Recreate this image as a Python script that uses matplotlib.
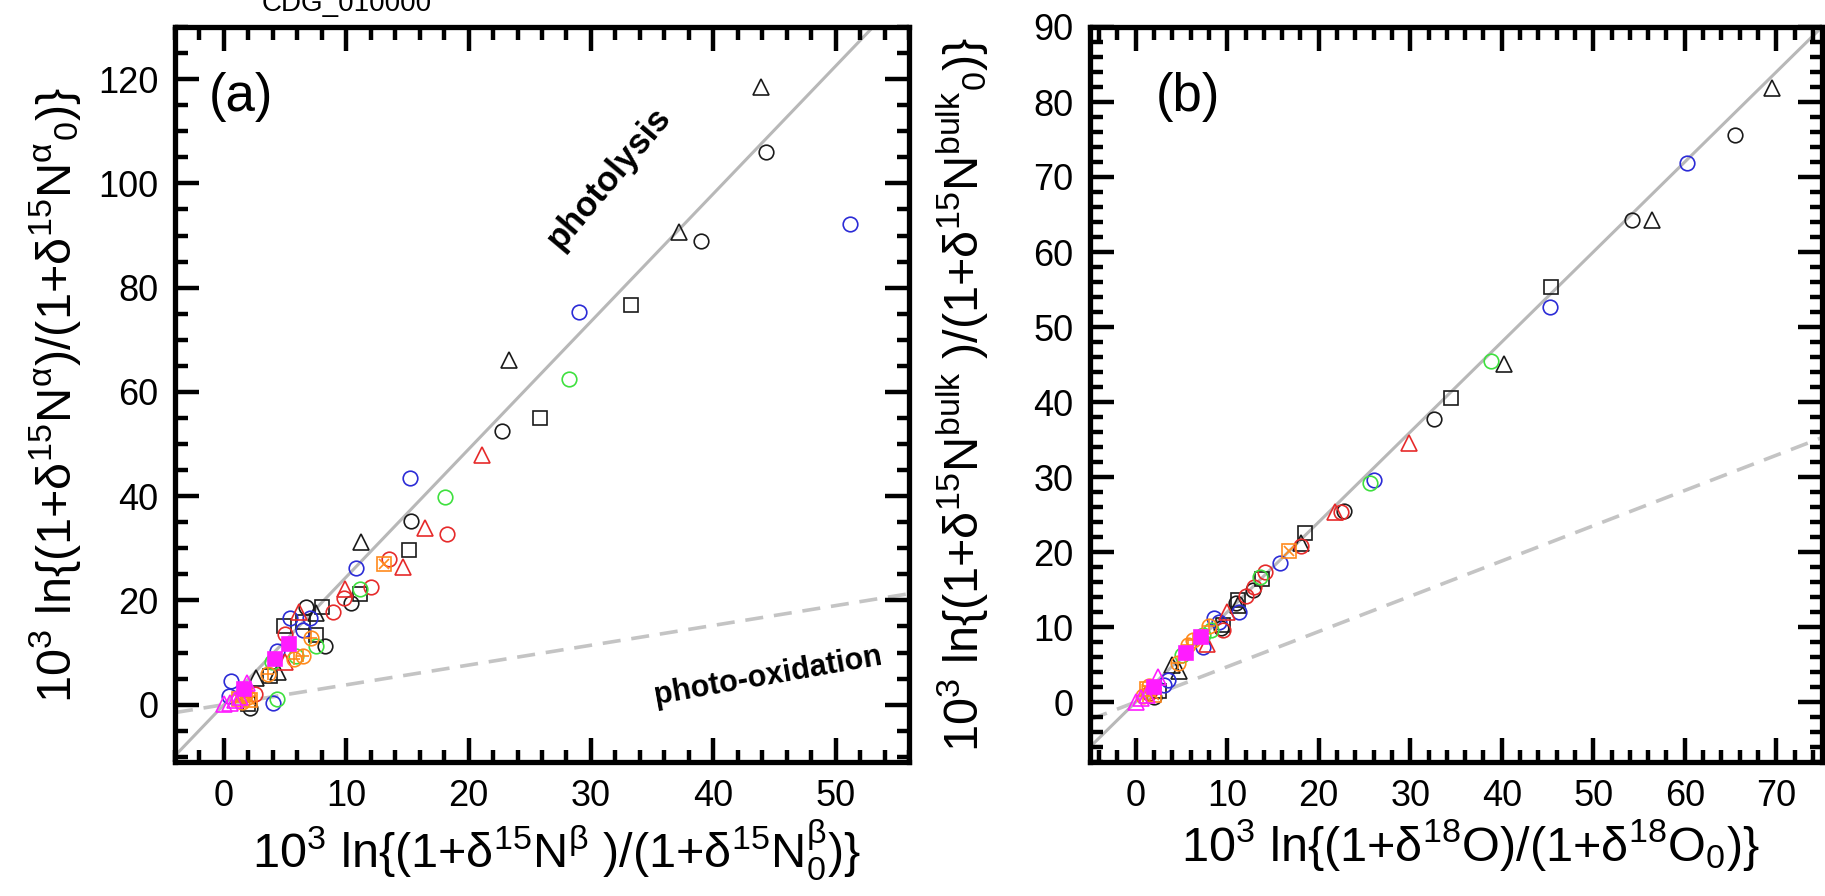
import matplotlib
matplotlib.use('Agg')
import matplotlib.pyplot as plt
from matplotlib import font_manager
from matplotlib.ticker import MultipleLocator

names = {f.name for f in font_manager.fontManager.ttflist}
fam = 'Liberation Sans' if 'Liberation Sans' in names else 'DejaVu Sans'
plt.rcParams['font.family'] = [fam, 'DejaVu Sans']
plt.rcParams['mathtext.default'] = 'regular'

# ---- panel (a): d15N-beta vs d15N-alpha ----
a_blk_o_x = [44.3, 39.0, 22.7, 15.3, 10.4, 6.7, 8.3, 2.1]
a_blk_o_y = [106.0, 88.9, 52.5, 35.3, 19.5, 18.8, 11.3, -0.6]
a_blk_t_x = [43.9, 37.2, 23.3, 11.2, 7.5, 4.4, 2.6]
a_blk_t_y = [118.5, 90.6, 66.2, 31.2, 17.5, 6.3, 5.2]
a_blk_s_x = [33.3, 25.8, 15.1, 11.1, 8.0, 6.5, 4.9, 7.5, 2.0, 3.8]
a_blk_s_y = [76.7, 55.0, 29.6, 21.3, 18.8, 15.8, 15.0, 13.3, 0.2, 5.5]
a_blu_o_x = [51.2, 29.0, 15.2, 10.8, 5.4, 7.0, 6.5, 4.3, 0.6, 0.4, 4.0]
a_blu_o_y = [92.3, 75.4, 43.5, 26.3, 16.7, 16.7, 14.4, 10.2, 4.6, 1.7, 0.4]
a_red_o_x = [18.2, 13.5, 12.0, 9.8, 8.9, 5.0, 2.5]
a_red_o_y = [32.7, 27.9, 22.5, 20.4, 17.7, 13.5, 2.1]
a_red_t_x = [21.1, 16.4, 14.6, 9.9, 6.1, 5.0]
a_red_t_y = [47.9, 33.8, 26.5, 22.1, 17.7, 8.1]
a_grn_o_x = [28.2, 18.1, 11.1, 7.5, 5.9, 3.9, 4.3]
a_grn_o_y = [62.5, 39.8, 22.1, 11.3, 9.4, 8.1, 1.0]
a_org_xs_x = [13.1, 1.7, 2.1, 1.2]
a_org_xs_y = [26.9, 2.1, 0.8, 1.0]
a_org_co_x = [7.1, 6.5, 5.7, 3.6, 2.0, 1.5]
a_org_co_y = [12.7, 9.4, 8.8, 5.8, 1.4, 0.5]
a_mag_s_x = [5.3, 4.2, 1.6]
a_mag_s_y = [11.7, 8.8, 3.1]
a_mag_t_x = [0.0, 0.5, 0.9, 1.3, 1.9]
a_mag_t_y = [0.2, 0.4, 0.8, 1.4, 4.2]

# ---- panel (b): d18O vs d15N-bulk ----
b_blk_o_x = [65.5, 54.2, 32.6, 22.8, 12.8, 11.0, 9.3, 2.0]
b_blk_o_y = [75.6, 64.3, 37.8, 25.5, 15.0, 13.2, 9.9, 0.7]
b_blk_t_x = [69.5, 56.4, 40.2, 18.1, 11.2, 4.0, 4.7]
b_blk_t_y = [81.9, 64.3, 45.1, 21.2, 13.0, 4.9, 4.2]
b_blk_s_x = [45.4, 34.4, 18.5, 13.8, 11.2, 9.5, 2.5]
b_blk_s_y = [55.3, 40.5, 22.5, 16.4, 13.6, 10.3, 1.5]
b_blu_o_x = [60.3, 45.3, 26.0, 15.8, 11.3, 8.5, 9.1, 7.3, 3.5, 3.1]
b_blu_o_y = [71.9, 52.6, 29.6, 18.6, 12.0, 11.2, 10.7, 7.3, 2.9, 2.3]
b_red_o_x = [22.4, 18.1, 14.1, 12.9, 12.0, 9.5, 1.5]
b_red_o_y = [25.3, 20.8, 17.4, 15.3, 14.2, 9.6, 1.2]
b_red_t_x = [29.9, 21.8, 10.0, 7.8]
b_red_t_y = [34.5, 25.3, 12.0, 7.8]
b_grn_o_x = [38.8, 25.6, 13.6, 7.3, 5.1, 8.2]
b_grn_o_y = [45.5, 29.2, 16.7, 8.9, 6.3, 9.6]
b_org_xs_x = [16.8, 1.2, 2.0]
b_org_xs_y = [20.1, 1.8, 1.0]
b_org_co_x = [8.0, 6.3, 4.6, 5.7, 1.5, 0.8]
b_org_co_y = [10.1, 8.3, 5.2, 7.6, 2.2, 0.8]
b_mag_s_x = [7.1, 5.5, 2.0]
b_mag_s_y = [8.7, 6.5, 2.0]
b_mag_t_x = [0.0, 2.4, 0.6, 1.2]
b_mag_t_y = [0.0, 3.3, 0.5, 1.0]

# reference lines: slope of photolysis / photo-oxidation trends
a_photolysis_slope = 2.45
a_oxidation_slope = 0.38
b_photolysis_slope = 1.2
b_oxidation_slope = 0.47

BLK = '#1a1a1a'; BLU = '#2b2bd6'; RED = '#e62a2a'; GRN = '#3ee03e'
ORG = '#ff8a1c'; MAG = '#ff1cff'


def draw(ax, s):
    # s: (x, y, colour, marker, filled, overlay)
    x, y, c, m, filled, over = s
    ms = {'o': 10.5, '^': 11.5, 's': 9.5}[m]
    ax.plot(x, y, ls='none', marker=m, ms=ms, mec=c, mew=1.2,
            mfc=c if filled else 'none', zorder=3)
    if over:
        ax.plot(x, y, ls='none', marker=over, ms=ms * 0.8, mec=c, mew=1.2, zorder=3)


fig = plt.figure(figsize=(18.25, 8.96), dpi=100)
axa = fig.add_axes([175 / 1825, 1 - 762 / 896, 734 / 1825, 735 / 896])
axb = fig.add_axes([1090 / 1825, 1 - 762 / 896, 732 / 1825, 735 / 896])

sa = [(a_blk_o_x, a_blk_o_y, BLK, 'o', False, None),
      (a_blk_t_x, a_blk_t_y, BLK, '^', False, None),
      (a_blk_s_x, a_blk_s_y, BLK, 's', False, None),
      (a_blu_o_x, a_blu_o_y, BLU, 'o', False, None),
      (a_red_o_x, a_red_o_y, RED, 'o', False, None),
      (a_red_t_x, a_red_t_y, RED, '^', False, None),
      (a_grn_o_x, a_grn_o_y, GRN, 'o', False, None),
      (a_org_xs_x, a_org_xs_y, ORG, 's', False, 'x'),
      (a_org_co_x, a_org_co_y, ORG, 'o', False, '+'),
      (a_mag_s_x, a_mag_s_y, MAG, 's', True, None),
      (a_mag_t_x, a_mag_t_y, MAG, '^', False, None)]
sb = [(b_blk_o_x, b_blk_o_y, BLK, 'o', False, None),
      (b_blk_t_x, b_blk_t_y, BLK, '^', False, None),
      (b_blk_s_x, b_blk_s_y, BLK, 's', False, None),
      (b_blu_o_x, b_blu_o_y, BLU, 'o', False, None),
      (b_red_o_x, b_red_o_y, RED, 'o', False, None),
      (b_red_t_x, b_red_t_y, RED, '^', False, None),
      (b_grn_o_x, b_grn_o_y, GRN, 'o', False, None),
      (b_org_xs_x, b_org_xs_y, ORG, 's', False, 'x'),
      (b_org_co_x, b_org_co_y, ORG, 'o', False, '+'),
      (b_mag_s_x, b_mag_s_y, MAG, 's', True, None),
      (b_mag_t_x, b_mag_t_y, MAG, '^', False, None)]

for ax, series, xl, yl, k1, k2 in [(axa, sa, (-4, 56), (-11, 130), a_photolysis_slope, a_oxidation_slope),
                                   (axb, sb, (-5, 75), (-8, 90), b_photolysis_slope, b_oxidation_slope)]:
    ax.plot(xl, [k1 * v for v in xl], color='#b8b8b8', lw=2.2, zorder=1)
    ax.plot(xl, [k2 * v for v in xl], color='#c4c4c4', lw=2.6, ls=(0, (5, 3)), zorder=1)
    for s in series:
        draw(ax, s)
    ax.set_xlim(xl)
    ax.set_ylim(yl)
    for sp in ax.spines.values():
        sp.set_linewidth(3.8)
    ax.tick_params(which='both', direction='in', top=True, right=True, width=3.2, labelsize=26, pad=12)
    ax.tick_params(which='major', length=17)
    ax.tick_params(which='minor', length=9)

axa.xaxis.set_major_locator(MultipleLocator(10))
axa.xaxis.set_minor_locator(MultipleLocator(2))
axa.yaxis.set_major_locator(MultipleLocator(20))
axa.yaxis.set_minor_locator(MultipleLocator(5))
axb.xaxis.set_major_locator(MultipleLocator(10))
axb.xaxis.set_minor_locator(MultipleLocator(2))
axb.yaxis.set_major_locator(MultipleLocator(10))
axb.yaxis.set_minor_locator(MultipleLocator(2))

axa.set_xlabel(r'10$^3$ ln{(1+δ$^{15}$N$^{\beta}$ )/(1+δ$^{15}$N$^{\beta}_{0}$)}', fontsize=35)
axa.set_ylabel(r'10$^3$ ln{(1+δ$^{15}$N$^{\alpha}$)/(1+δ$^{15}$N$^{\alpha}{}_{0}$)}', fontsize=35)
axb.set_xlabel(r'10$^3$ ln{(1+δ$^{18}$O)/(1+δ$^{18}$O$_{0}$)}', fontsize=35)
axb.set_ylabel(r'10$^3$ ln{(1+δ$^{15}$N$^{bulk}$ )/(1+δ$^{15}$N$^{bulk}{}_{0}$)}', fontsize=35)
axa.xaxis.set_label_coords(0.52, -0.075)
axb.xaxis.set_label_coords(0.52, -0.075)
axa.yaxis.set_label_coords(-0.125, 0.5)
axb.yaxis.set_label_coords(-0.135, 0.5)

axa.text(0.09, 0.905, '(a)', transform=axa.transAxes, fontsize=38, ha='center', va='center')
axb.text(0.134, 0.905, '(b)', transform=axb.transAxes, fontsize=38, ha='center', va='center')
axa.text(31.5, 101, 'photolysis', fontsize=25, fontweight='bold', rotation=50,
         ha='center', va='center', rotation_mode='anchor')
axa.text(44.5, 5.5, 'photo-oxidation', fontsize=22, fontweight='bold', rotation=10,
         ha='center', va='center', rotation_mode='anchor')

# title cut off at the top edge of the original image, as in the source picture
fig.text(0.19, 1 - 11 / 896, 'CDG_010000', fontsize=20, ha='center', va='baseline')

fig.savefig('out.png', dpi=100)
